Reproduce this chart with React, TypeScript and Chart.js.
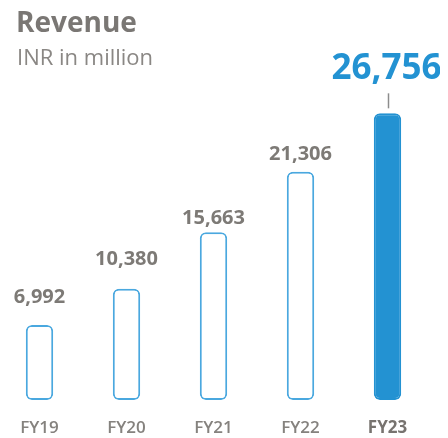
import React, { useEffect, useRef } from "react";
import { Chart, registerables } from "chart.js";

Chart.register(...registerables);

const categories = ["FY19", "FY20", "FY21", "FY22", "FY23"];
const revenue = [6992, 10380, 15663, 21306, 26756];
const valueLabels = ["6,992", "10,380", "15,663", "21,306", "26,756"];
const labelGaps = [22, 24, 8, 12, 34];
const titleText = "Revenue";
const subtitleText = "INR in million";

const FONT = "'Open Sans', 'Noto Sans', sans-serif";
const GRAY = "#7d7a76";
const BLUE = "#2392d2";
const OUTLINE = "#4aa8df";

const labelPlugin = {
  id: "customLabels",
  afterDatasetsDraw(chart: any) {
    const ctx = chart.ctx;
    const meta = chart.getDatasetMeta(0);
    ctx.save();
    ctx.textAlign = "left";
    ctx.textBaseline = "alphabetic";
    ctx.fillStyle = "#7a7774";
    ctx.font = `bold 28px ${FONT}`;
    ctx.fillText(titleText, 20, 32);
    ctx.fillStyle = "#8a8784";
    ctx.font = `normal 22px ${FONT}`;
    ctx.fillText(subtitleText, 21, 65);

    const last = revenue.length - 1;
    meta.data.forEach((bar: any, i: number) => {
      const x = bar.x;
      const top = bar.y;
      ctx.textAlign = "center";
      ctx.textBaseline = "alphabetic";
      if (i === last) {
        ctx.fillStyle = BLUE;
        ctx.font = `bold 35px ${FONT}`;
        ctx.fillText(valueLabels[i], x - 1, top - labelGaps[i]);
        ctx.strokeStyle = "#8c8c8c";
        ctx.lineWidth = 1.5;
        ctx.beginPath();
        ctx.moveTo(x + 1, top - 20);
        ctx.lineTo(x + 1, top - 5);
        ctx.stroke();
      } else {
        ctx.fillStyle = GRAY;
        ctx.font = `bold 20px ${FONT}`;
        ctx.fillText(valueLabels[i], x, top - labelGaps[i]);
      }
    });
    ctx.restore();
  },
};

export default function App() {
  const ref = useRef<HTMLCanvasElement | null>(null);
  useEffect(() => {
    if (!ref.current) return;
    const last = revenue.length - 1;
    const chart = new Chart(ref.current, {
      type: "bar",
      data: {
        labels: categories,
        datasets: [
          {
            data: revenue,
            backgroundColor: revenue.map((_, i) => (i === last ? BLUE : "#ffffff")),
            borderColor: revenue.map((_, i) => (i === last ? BLUE : OUTLINE)),
            borderWidth: 2,
            borderRadius: 6,
            borderSkipped: false,
            barPercentage: 0.315,
            categoryPercentage: 1,
          },
        ],
      },
      options: {
        responsive: false,
        animation: false,
        layout: { padding: { top: 100, right: 17, bottom: 0, left: 0 } },
        plugins: {
          legend: { display: false },
          tooltip: { enabled: false },
          title: { display: false },
        },
        scales: {
          x: {
            grid: { display: false, drawTicks: false },
            border: { display: false },
            afterFit: (scale: any) => {
              scale.height = 38;
            },
            ticks: {
              padding: 18,
              color: (c: any) => (c.index === last ? "#77736f" : "#85827e"),
              font: (c: any) => ({
                family: FONT,
                size: 17,
                weight: c.index === last ? "bold" : "600",
              }),
            },
          },
          y: {
            display: false,
            min: 0,
            max: 28000,
          },
        },
      },
      plugins: [labelPlugin],
    });
    return () => chart.destroy();
  }, []);
  return (
    <div style={{ position: "relative", width: 452, height: 438, margin: "-8px 0 0 -12px" }}>
      <canvas ref={ref} width={452} height={438} style={{ display: "block" }} />
    </div>
  );
}
